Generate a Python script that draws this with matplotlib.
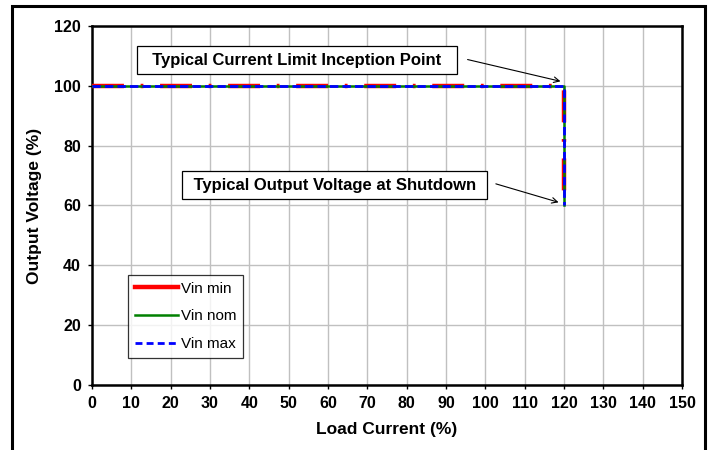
import matplotlib
matplotlib.use("Agg")
import matplotlib.pyplot as plt
from matplotlib.lines import Line2D
from matplotlib.patches import Rectangle

plt.rcParams['font.family'] = ['Liberation Sans', 'DejaVu Sans']
plt.rcParams['lines.scale_dashes'] = False

# curve data (load current %, output voltage %)
loadMin = [0, 120, 120]
voutMin = [100, 100, 60]
loadNom = [0, 120, 120]
voutNom = [100, 100, 60]
loadMax = [0, 120, 120]
voutMax = [100, 100, 60]

xTicks = list(range(0, 151, 10))
yTicks = list(range(0, 121, 20))
seriesNames = ['Vin min', 'Vin nom', 'Vin max']

W, H = 716, 450
fig = plt.figure(figsize=(W / 100, H / 100), dpi=100)
ax = fig.add_axes([92 / W, 1 - 385 / H, (682 - 92) / W, (385 - 26) / H])

# outer chart frame
fig.patches.append(Rectangle((12 / W, -0.01), (705 - 12) / W, 1 - 6 / H + 0.01,
                             transform=fig.transFigure, fill=False,
                             edgecolor='black', linewidth=2.2))

ax.plot(loadMin, voutMin, color='red', linewidth=3.2, dashes=(23, 12, 2, 12),
        solid_capstyle='butt', dash_capstyle='butt', zorder=3)
ax.plot(loadNom, voutNom, color='green', linewidth=1.8, zorder=4)
ax.plot(loadMax, voutMax, color='blue', linewidth=2.0, dashes=(6, 3), zorder=5)

ax.set_xlim(0, 150)
ax.set_ylim(0, 120)
ax.set_xticks(xTicks)
ax.set_yticks(yTicks)
ax.grid(True, color='#c0c0c0', linewidth=1.0)
ax.set_axisbelow(True)
for s in ax.spines.values():
    s.set_linewidth(1.8)
ax.tick_params(direction='out', length=3, width=1, labelsize=11.5, pad=5)
for lab in ax.get_xticklabels() + ax.get_yticklabels():
    lab.set_fontweight('bold')
ax.set_xlabel('Load Current (%)', fontsize=12.5, fontweight='bold', labelpad=8)
ax.set_ylabel('Output Voltage (%)', fontsize=12.5, fontweight='bold', labelpad=9)

boxStyle = dict(boxstyle='square,pad=0.4', facecolor='white', edgecolor='black', linewidth=0.9)
ax.text(52.1, 108.6, '  Typical Current Limit Inception Point  ', ha='center', va='center',
        fontsize=12, fontweight='bold', bbox=boxStyle, zorder=6)
ax.annotate('', xy=(119.8, 101.3), xytext=(94.8, 109.0),
            arrowprops=dict(arrowstyle='->', color='black', lw=0.8, mutation_scale=10), zorder=6)
ax.text(61.7, 66.8, ' Typical Output Voltage at Shutdown ', ha='center', va='center',
        fontsize=12, fontweight='bold', bbox=boxStyle, zorder=6)
ax.annotate('', xy=(119.3, 60.8), xytext=(102.0, 67.5),
            arrowprops=dict(arrowstyle='->', color='black', lw=0.8, mutation_scale=10), zorder=6)

handles = [Line2D([], [], color='red', linewidth=3.2),
           Line2D([], [], color='green', linewidth=1.8),
           Line2D([], [], color='blue', linewidth=2.0, dashes=(5, 3))]
leg = ax.legend(handles, seriesNames, loc='lower left', bbox_to_anchor=(36 / 590, 27 / 359),
                fontsize=11, frameon=True, fancybox=False, edgecolor='black',
                handlelength=2.8, handletextpad=0.2, labelspacing=0.9,
                borderpad=0.45, borderaxespad=0)
leg.get_frame().set_linewidth(0.9)

fig.savefig('out.png', dpi=100)
